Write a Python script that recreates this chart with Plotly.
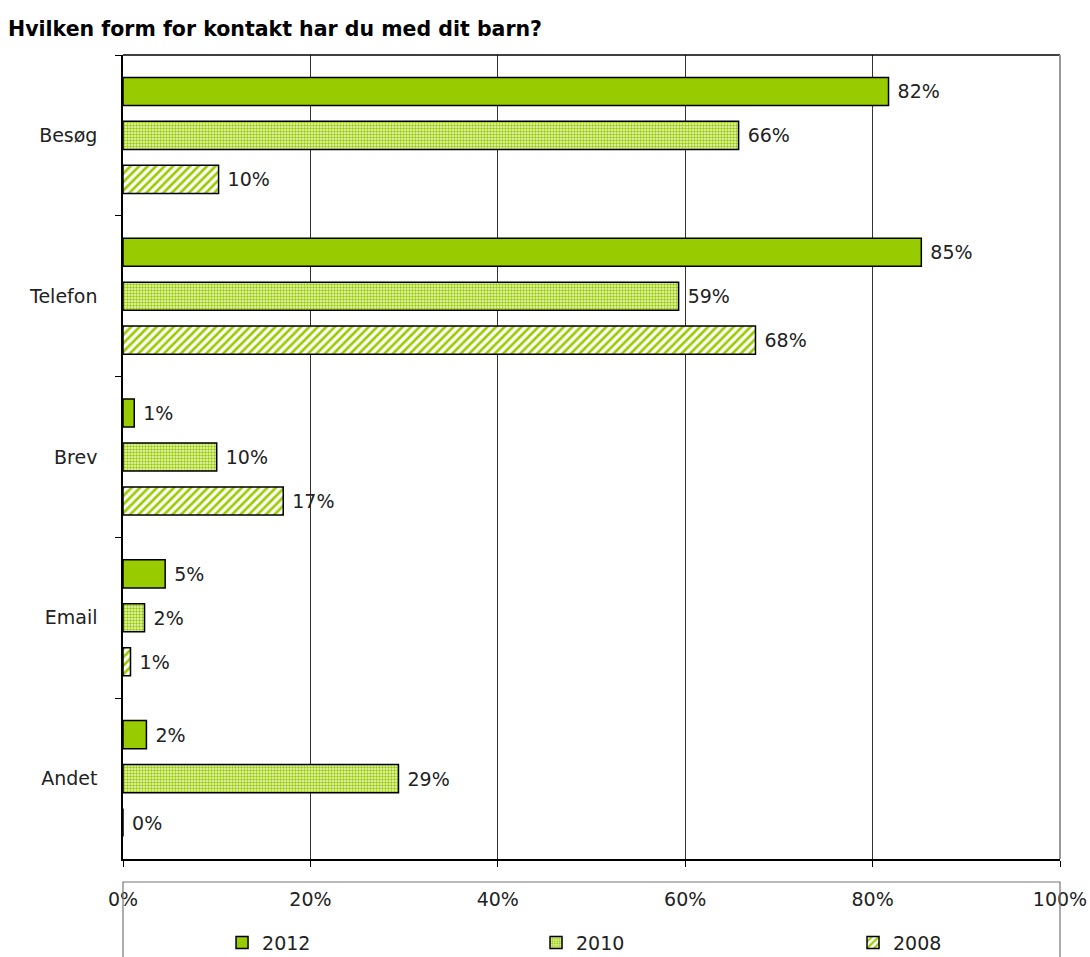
import plotly.graph_objects as go

categories = ["Besøg", "Telefon", "Brev", "Email", "Andet"]
v2012 = [81.7, 85.2, 1.2, 4.5, 2.5]
v2010 = [65.7, 59.3, 10.0, 2.3, 29.4]
v2008 = [10.2, 67.5, 17.1, 0.8, 0.0]
lab2012 = ["82%", "85%", "1%", "5%", "2%"]
lab2010 = ["66%", "59%", "10%", "2%", "29%"]
lab2008 = ["10%", "68%", "17%", "1%", "0%"]
x_ticks = [0, 20, 40, 60, 80, 100]
x_ticklabels = ["0%", "20%", "40%", "60%", "80%", "100%"]

GREEN = "#99cc00"
FONT = "DejaVu Sans"
TXT = "#222222"

fig = go.Figure()

def add(name, vals, labs, pattern, legend):
    fig.add_trace(go.Bar(
        name=name, y=categories, x=vals, orientation="h",
        text=labs, texttemplate=" %{text}", textposition="outside", cliponaxis=False,
        textfont=dict(family=FONT, size=19, color=TXT),
        marker=dict(color=GREEN if pattern is None else "white",
                    line=dict(color="black", width=1.5),
                    pattern=pattern),
        legend=legend,
    ))

add("2012", v2012, lab2012, None, "legend")
add("2010", v2010, lab2010,
    dict(shape=".", fgcolor=GREEN, bgcolor="#edf7cf", size=3, solidity=0.5, fillmode="replace"),
    "legend2")
add("2008", v2008, lab2008,
    dict(shape="/", fgcolor=GREEN, bgcolor="white", size=6, solidity=0.45, fillmode="replace"),
    "legend3")

leg_common = dict(orientation="h", y=-0.104, yanchor="middle", xanchor="left",
                  bgcolor="rgba(0,0,0,0)", borderwidth=0,
                  font=dict(family=FONT, size=19, color=TXT), itemwidth=30)

fig.update_layout(
    width=1090, height=957,
    margin=dict(l=123, r=30, t=55, b=98, autoexpand=False),
    paper_bgcolor="white", plot_bgcolor="white",
    barmode="group", bargap=0.18, bargroupgap=0.36,
    title=dict(text="<b>Hvilken form for kontakt har du med dit barn?</b>",
               font=dict(family="DejaVu Sans", size=20.5, color="black"),
               x=8 / 1090, xanchor="left", xref="container",
               y=1 - 29 / 957, yanchor="middle", yref="container"),
    font=dict(family=FONT, size=19, color=TXT),
    showlegend=True,
    legend=dict(x=0.1057, **leg_common),
    legend2=dict(x=0.4408, **leg_common),
    legend3=dict(x=0.7791, **leg_common),
    xaxis=dict(range=[0, 100], tickvals=x_ticks, ticktext=x_ticklabels,
               showgrid=True, gridcolor="#333333", gridwidth=1,
               showline=True, linecolor="black", linewidth=1.5,
               ticks="outside", ticklen=6, tickcolor="black",
               ticklabelstandoff=16,
               zeroline=False, mirror=False, tickfont=dict(size=19)),
    yaxis=dict(autorange="reversed", tickson="boundaries",
               ticks="outside", ticklen=6, tickcolor="black",
               showline=True, linecolor="black", linewidth=1.5,
               ticklabelstandoff=20, tickfont=dict(size=19),
               showgrid=False),
    shapes=[
        dict(type="line", xref="paper", yref="paper", x0=0, x1=1, y0=1, y1=1,
             line=dict(color="black", width=1.5)),
        dict(type="line", xref="paper", yref="paper", x0=1, x1=1, y0=0, y1=1,
             line=dict(color="#999999", width=2)),
        dict(type="rect", xref="paper", yref="paper", x0=0, x1=1,
             y0=-0.0286, y1=-0.16, line=dict(color="#777777", width=1.2),
             fillcolor="rgba(0,0,0,0)"),
    ],
)

fig.write_html("out.html", config={"displayModeBar": False},
               post_script="document.body.style.margin='0px';document.body.style.overflow='hidden';")
